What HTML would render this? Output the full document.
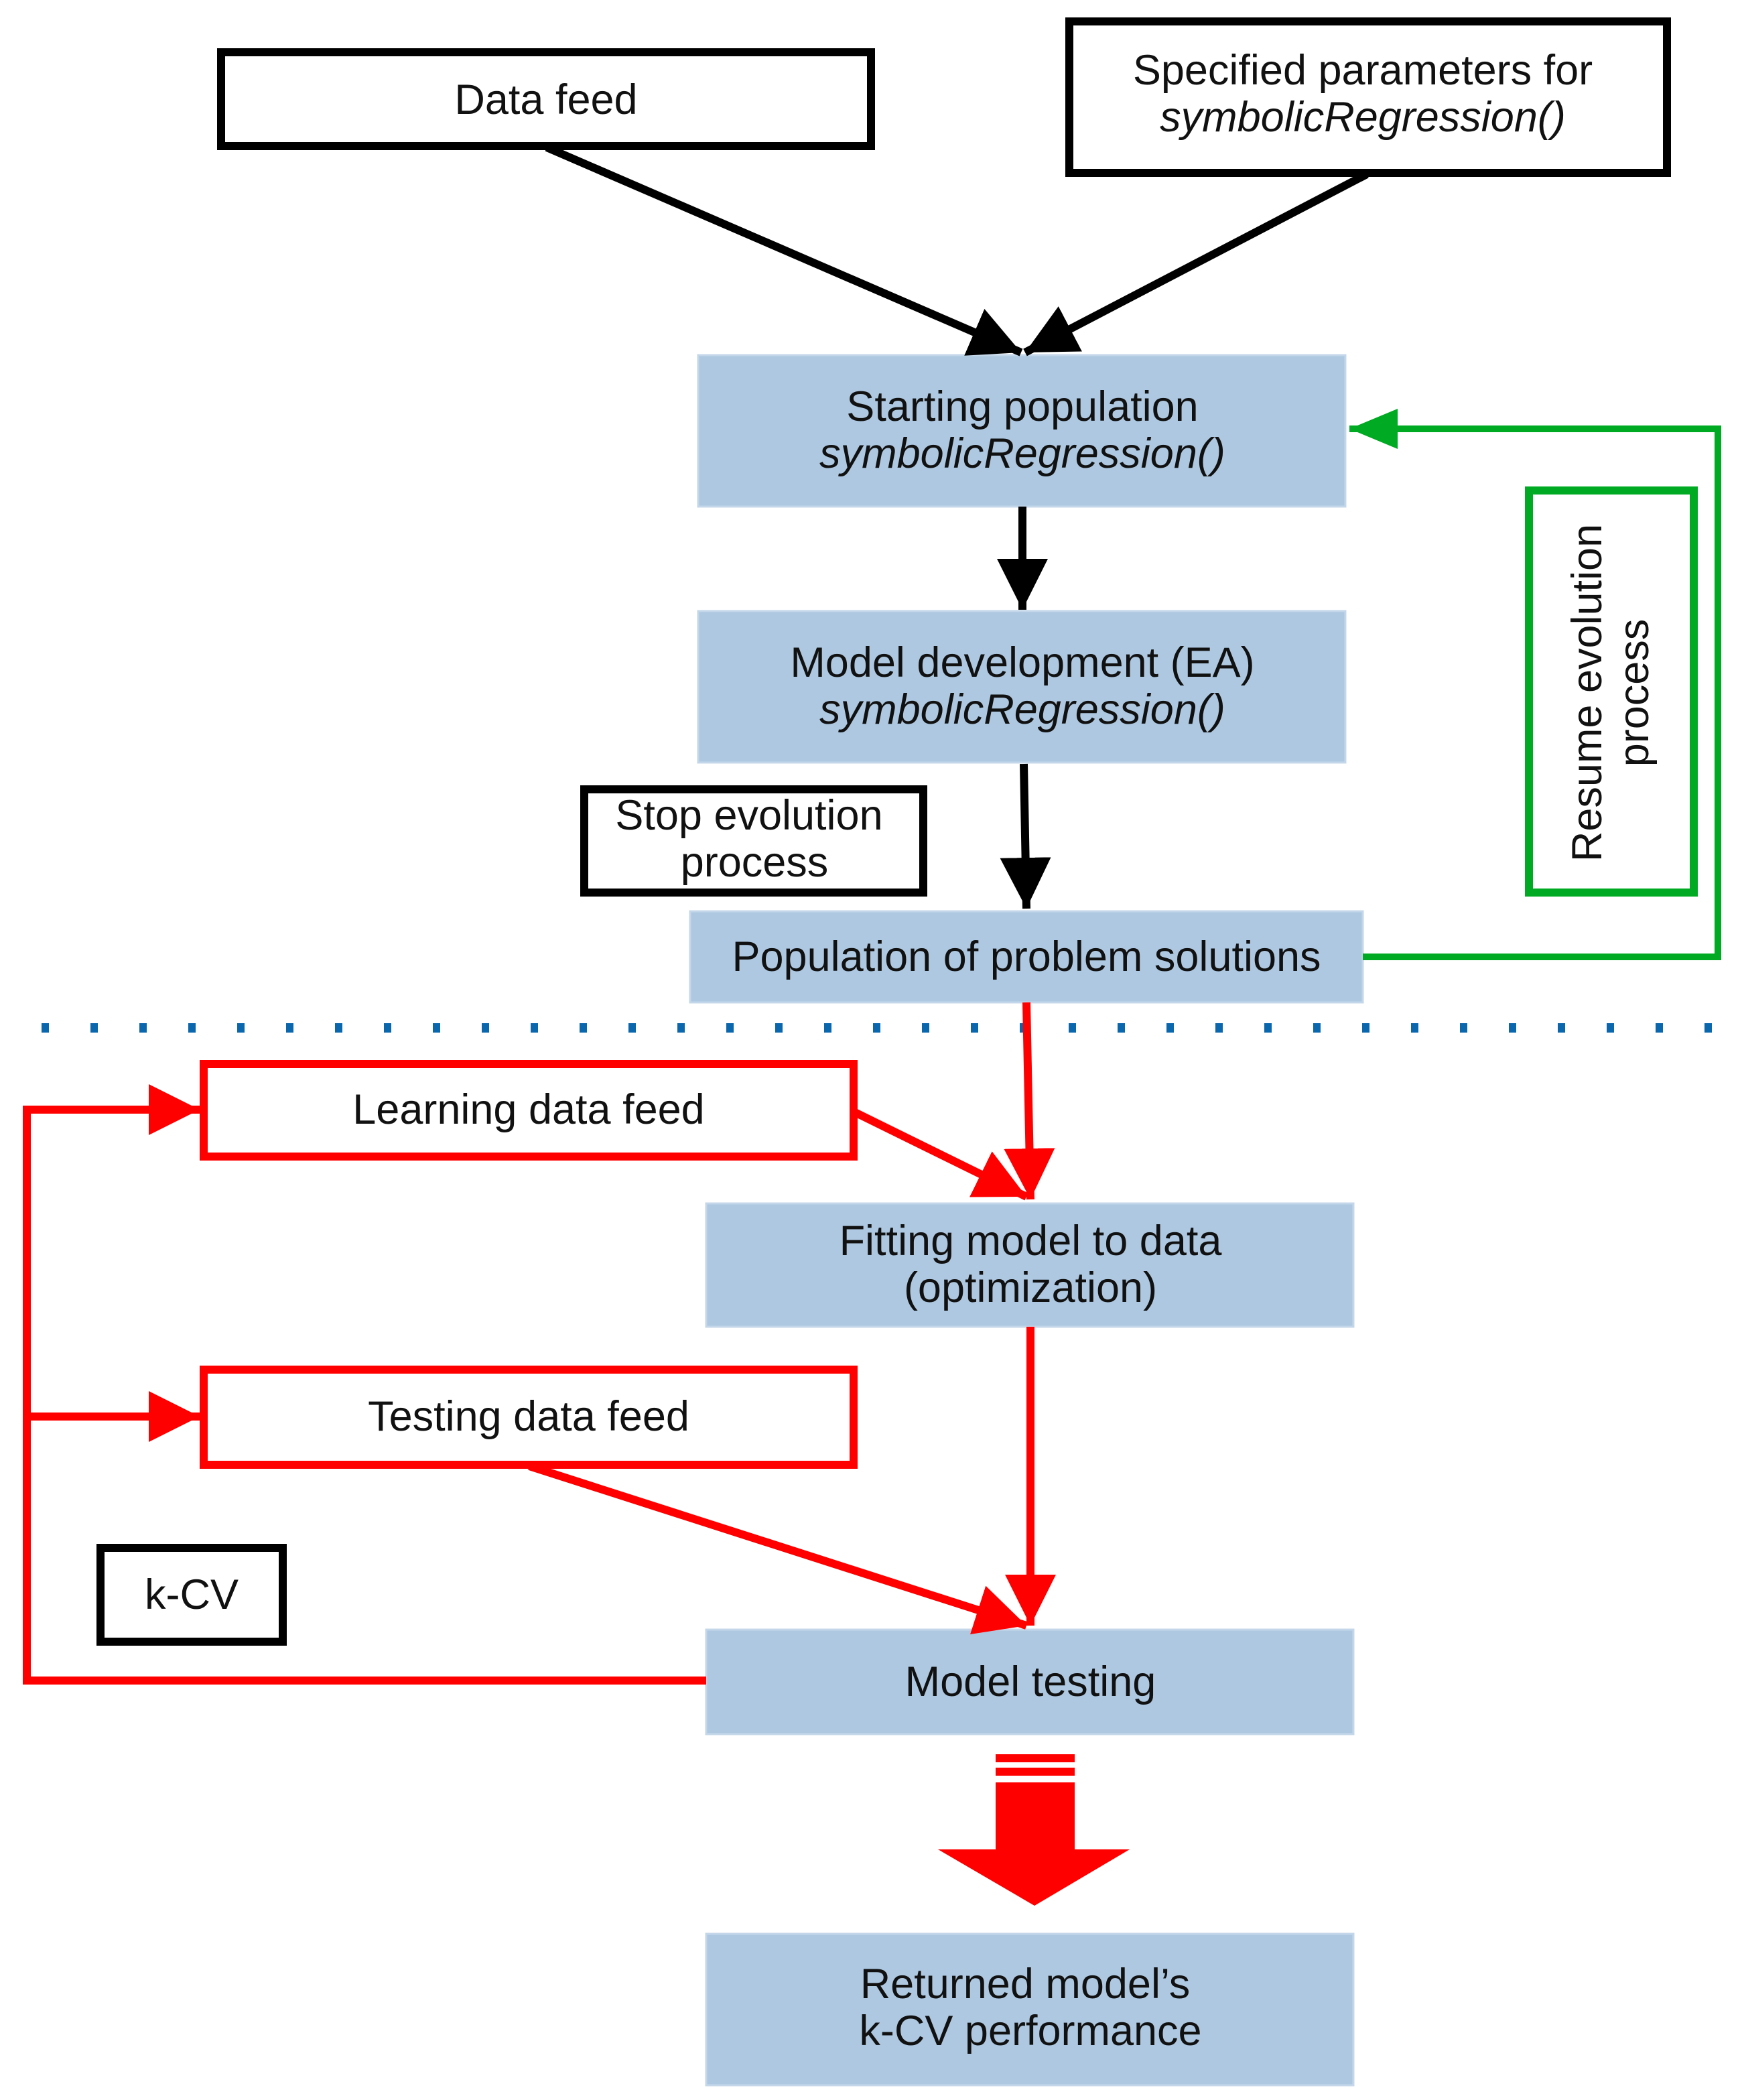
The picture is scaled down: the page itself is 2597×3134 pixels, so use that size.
<!DOCTYPE html>
<html><head><meta charset="utf-8"><style>
html,body{margin:0;padding:0;background:#fff;}
svg{display:block;}
text{font-family:"Liberation Sans",sans-serif;font-size:63px;fill:#111;text-anchor:middle;}
.i{font-style:italic;}
</style></head><body>
<svg width="2597" height="3134" viewBox="0 0 2597 3134" xmlns="http://www.w3.org/2000/svg">
<defs>
<marker id="ab" markerUnits="userSpaceOnUse" markerWidth="90" markerHeight="90" refX="76" refY="38" orient="auto"><path d="M0,0 L76,38 L0,76 Z" fill="#000"/></marker>
<marker id="ar" markerUnits="userSpaceOnUse" markerWidth="90" markerHeight="90" refX="76" refY="38" orient="auto"><path d="M0,0 L76,38 L0,76 Z" fill="#f00"/></marker>
<marker id="ag" markerUnits="userSpaceOnUse" markerWidth="90" markerHeight="90" refX="72" refY="30" orient="auto"><path d="M0,0 L72,30 L0,60 Z" fill="#00aa22"/></marker>
</defs>
<g fill="#adc8e0" stroke="#c4d7ea" stroke-width="3">
<rect x="1042" y="530" width="966" height="226"/>
<rect x="1042" y="912" width="966" height="226"/>
<rect x="1030" y="1360" width="1004" height="136"/>
<rect x="1054" y="1796" width="966" height="184"/>
<rect x="1054" y="2432" width="966" height="156"/>
<rect x="1054" y="2886" width="966" height="226"/>
</g>
<g fill="#fff" stroke="#000" stroke-width="12">
<rect x="330" y="78" width="970" height="140"/>
<rect x="1596" y="32" width="892" height="226"/>
<rect x="872" y="1178" width="506" height="154"/>
<rect x="150" y="2310" width="272" height="140"/>
</g>
<g fill="#fff" stroke="#f00" stroke-width="12">
<rect x="304" y="1588" width="970" height="138"/>
<rect x="304" y="2044" width="970" height="142"/>
</g>
<rect x="2282" y="732" width="246" height="600" fill="#fff" stroke="#00aa22" stroke-width="12"/>
<g stroke="#000" stroke-width="12" fill="none">
<line x1="816" y1="220" x2="1524" y2="526" marker-end="url(#ab)"/>
<line x1="2040" y1="260" x2="1530" y2="526" marker-end="url(#ab)"/>
<line x1="1526" y1="756" x2="1526" y2="910" marker-end="url(#ab)"/>
<line x1="1528" y1="1140" x2="1532" y2="1356" marker-end="url(#ab)"/>
</g>
<polyline points="2034,1428 2564,1428 2564,640 2014,640" fill="none" stroke="#00aa22" stroke-width="10" marker-end="url(#ag)"/>
<line x1="62" y1="1534" x2="2560" y2="1534" stroke="#0a66ad" stroke-width="14" stroke-dasharray="11 62"/>
<g stroke="#f00" stroke-width="12" fill="none">
<line x1="1532" y1="1496" x2="1538" y2="1790" marker-end="url(#ar)"/>
<line x1="1276" y1="1660" x2="1532" y2="1786" marker-end="url(#ar)"/>
<line x1="1538" y1="1980" x2="1538" y2="2426" marker-end="url(#ar)"/>
<line x1="790" y1="2188" x2="1532" y2="2426" marker-end="url(#ar)"/>
<polyline points="1054,2508 40,2508 40,1656 298,1656" marker-end="url(#ar)"/>
<polyline points="40,2114 298,2114" marker-end="url(#ar)"/>
</g>
<g fill="#f00">
<rect x="1486" y="2618" width="118" height="12"/>
<rect x="1486" y="2638" width="118" height="12"/>
<path d="M1486,2660 L1604,2660 L1604,2760 L1686,2760 L1544,2844 L1400,2760 L1486,2760 Z"/>
</g>
<text x="815" y="170">Data feed</text>
<text x="2034" y="126">Specified parameters for</text>
<text x="2034" y="196" class="i">symbolicRegression()</text>
<text x="1526" y="628">Starting population</text>
<text x="1526" y="698" class="i">symbolicRegression()</text>
<text x="1526" y="1010">Model development (EA)</text>
<text x="1526" y="1080" class="i">symbolicRegression()</text>
<text x="1118" y="1238">Stop evolution</text>
<text x="1126" y="1308">process</text>
<text x="1532" y="1449">Population of problem solutions</text>
<text x="789" y="1677">Learning data feed</text>
<text x="1538" y="1873">Fitting model to data</text>
<text x="1538" y="1943">(optimization)</text>
<text x="789" y="2135">Testing data feed</text>
<text x="286" y="2401">k-CV</text>
<text x="1538" y="2531">Model testing</text>
<text x="1530" y="2982">Returned model’s</text>
<text x="1538" y="3052">k-CV performance</text>
<g transform="translate(2404,1034) rotate(-90)">
<text x="0" y="-14">Resume evolution</text>
<text x="0" y="56">process</text>
</g>
</svg>
</body></html>
